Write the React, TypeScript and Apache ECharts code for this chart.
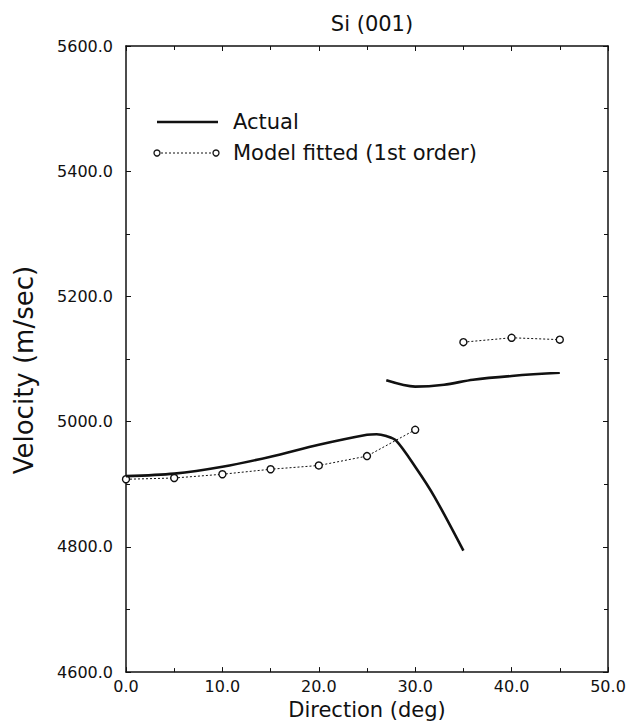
import React, { useEffect, useRef } from "react";
import * as echarts from "echarts";

const actualLowX = [0, 5, 10, 15, 20, 25, 26, 27, 28, 30, 32, 35];
const actualLowY = [4913, 4917, 4928, 4944, 4963, 4979, 4980, 4977, 4970, 4928, 4880, 4794];
const actualHighX = [27, 30, 33, 36, 40, 45];
const actualHighY = [5066, 5056, 5059, 5067, 5073, 5078];
const fitLowX = [0, 5, 10, 15, 20, 25, 30];
const fitLowY = [4908, 4910, 4916, 4924, 4930, 4945, 4987];
const fitHighX = [35, 40, 45];
const fitHighY = [5127, 5134, 5131];

const titleText = "Si (001)";
const xName = "Direction (deg)";
const yName = "Velocity (m/sec)";
const legendActual = "Actual";
const legendFit = "Model fitted (1st order)";

const FONT = "DejaVu Sans";
const INK = "#111";

const pairs = (xs: number[], ys: number[]) => xs.map((x, i) => [x, ys[i]]);

export default function App() {
  const ref = useRef<HTMLDivElement>(null);
  useEffect(() => {
    if (!ref.current) return;
    const chart = echarts.init(ref.current, null, { renderer: "svg" });
    const grid = { left: 126, top: 46, width: 482, height: 629 };
    const xBase = {
      type: "value" as const,
      min: 0,
      max: 50,
      interval: 10,
      axisLine: { show: true, onZero: false, lineStyle: { color: INK, width: 1.5 } },
      axisTick: { show: true, inside: true, length: 5, lineStyle: { color: INK, width: 1 } },
      minorTick: { show: true, splitNumber: 2, length: 4, lineStyle: { color: INK, width: 1 } },
      splitLine: { show: false },
    };
    const yBase = {
      type: "value" as const,
      min: 4600,
      max: 5600,
      interval: 200,
      axisLine: { show: true, onZero: false, lineStyle: { color: INK, width: 1.5 } },
      axisTick: { show: true, inside: true, length: 5, lineStyle: { color: INK, width: 1 } },
      minorTick: { show: true, splitNumber: 2, length: 4, lineStyle: { color: INK, width: 1 } },
      splitLine: { show: false },
    };
    const fitStyle = {
      type: "line" as const,
      xAxisIndex: 0,
      yAxisIndex: 0,
      symbol: "circle",
      symbolSize: 7,
      showSymbol: true,
      lineStyle: { color: INK, width: 1, type: [2, 2] as any },
      itemStyle: { color: "#fff", borderColor: INK, borderWidth: 1.4 },
      z: 3,
    };
    const actStyle = {
      type: "line" as const,
      xAxisIndex: 0,
      yAxisIndex: 0,
      symbol: "none",
      smooth: 0.3,
      lineStyle: { color: INK, width: 2.6 },
      z: 4,
    };
    chart.setOption({
      animation: false,
      backgroundColor: "#fff",
      textStyle: { fontFamily: FONT },
      title: {
        text: titleText,
        left: 367,
        top: 8,
        textAlign: "center",
        textStyle: { fontFamily: FONT, fontSize: 21, fontWeight: "normal", color: INK },
      },
      grid,
      xAxis: [
        {
          ...xBase,
          position: "bottom",
          name: xName,
          nameLocation: "middle",
          nameGap: 24,
          nameTextStyle: { fontFamily: FONT, fontSize: 21, color: INK },
          axisLabel: {
            margin: 6,
            fontFamily: FONT,
            fontSize: 16,
            color: INK,
            formatter: (v: number) => v.toFixed(1),
          },
        },
        { ...xBase, position: "top", axisLabel: { show: false } },
      ],
      yAxis: [
        {
          ...yBase,
          position: "left",
          name: yName,
          nameLocation: "middle",
          nameGap: 89,
          nameRotate: 90,
          nameTextStyle: { fontFamily: FONT, fontSize: 26, color: INK, padding: [0, 22, 0, 0] },
          axisLabel: {
            margin: 13,
            fontFamily: FONT,
            fontSize: 16,
            color: INK,
            formatter: (v: number) => v.toFixed(1),
          },
        },
        { ...yBase, position: "right", axisLabel: { show: false } },
      ],
      series: [
        { ...actStyle, name: legendActual, data: pairs(actualLowX, actualLowY) },
        { ...actStyle, name: legendActual, data: pairs(actualHighX, actualHighY) },
        { ...fitStyle, name: legendFit, data: pairs(fitLowX, fitLowY) },
        { ...fitStyle, name: legendFit, data: pairs(fitHighX, fitHighY) },
      ],
      graphic: [
        {
          type: "line",
          shape: { x1: 157, y1: 122, x2: 218, y2: 122 },
          style: { stroke: INK, lineWidth: 2.6 },
        },
        {
          type: "text",
          x: 233,
          y: 122,
          style: { text: legendActual, fontFamily: FONT, fontSize: 21, fill: INK, verticalAlign: "middle" },
        },
        {
          type: "line",
          shape: { x1: 157, y1: 153, x2: 216, y2: 153 },
          style: { stroke: INK, lineWidth: 1, lineDash: [2, 2] },
        },
        {
          type: "circle",
          shape: { cx: 157, cy: 153, r: 3 },
          style: { fill: "#fff", stroke: INK, lineWidth: 1.3 },
        },
        {
          type: "circle",
          shape: { cx: 216, cy: 153, r: 3 },
          style: { fill: "#fff", stroke: INK, lineWidth: 1.3 },
        },
        {
          type: "text",
          x: 233,
          y: 153,
          style: { text: legendFit, fontFamily: FONT, fontSize: 21, fill: INK, verticalAlign: "middle" },
        },
      ],
    });
    return () => chart.dispose();
  }, []);
  return (
    <div
      ref={ref}
      style={{ position: "fixed", left: 0, top: 0, width: 632, height: 725, background: "#fff" }}
    />
  );
}
